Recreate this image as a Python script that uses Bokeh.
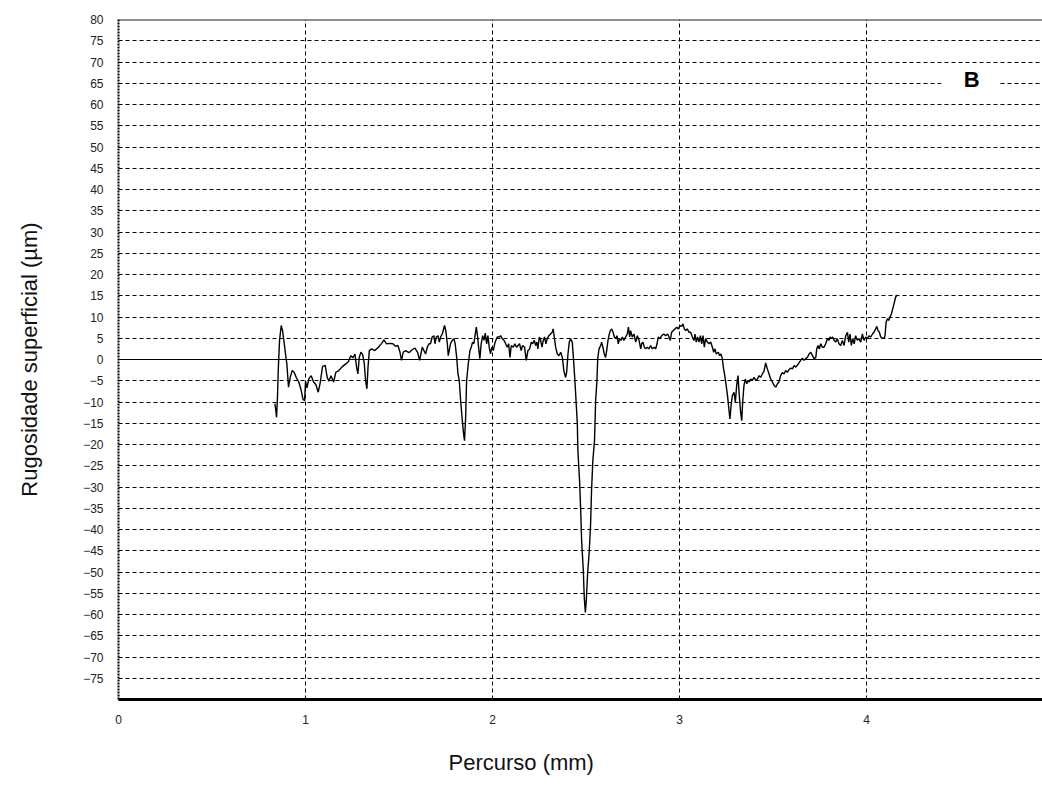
from bokeh.plotting import figure
from bokeh.models import Span, Label, BoxAnnotation, FixedTicker, Range1d, Title
from bokeh.embed import file_html
from bokeh.resources import INLINE

# ---- data ----
x_ticks = [0, 1, 2, 3, 4]
y_ticks = list(range(-75, 81, 5))
x_label = "Percurso (mm)"
y_label = "Rugosidade superficial (µm)"
panel_letter = "B"

profile_a = [(0.836,-10.4),(0.841,-12.0),(0.845,-13.6),(0.850,-8.9),(0.854,-2.6),(0.861,4.5),
             (0.870,8.0),(0.877,6.8),(0.884,4.5),(0.893,1.3),(0.900,-1.0),(0.909,-6.5),
             (0.918,-4.2),(0.929,-2.6),(0.939,-3.0),(0.950,-4.2),(0.964,-5.3),(0.977,-7.3),
             (0.986,-9.3),(0.995,-9.7),(1.000,-5.0),(1.007,-6.7),(1.018,-4.5),(1.030,-3.8),
             (1.043,-5.3),(1.055,-5.9),(1.068,-7.7),(1.079,-5.3),(1.091,-1.6),(1.105,-1.4),
             (1.116,-4.2),(1.125,-5.1),(1.136,-3.8),(1.150,-5.3),(1.162,-3.0),(1.178,-2.6),
             (1.194,-1.8),(1.210,-1.2),(1.228,-0.6),(1.242,0.9),(1.253,0.4),(1.264,1.3),
             (1.273,-1.8),(1.280,-3.4),(1.287,0.5),(1.296,1.7),(1.305,1.2),(1.314,-0.9),
             (1.321,-5.0),(1.328,-6.9),(1.334,-1.8),(1.341,2.1),(1.353,2.5),(1.371,2.1),
             (1.389,2.9),(1.407,3.8),(1.419,4.6),(1.433,3.7),(1.449,3.8),(1.467,3.7),
             (1.481,3.1),(1.494,3.3),(1.505,1.7),(1.513,-0.2),(1.522,1.7),(1.535,2.1),
             (1.553,1.6),(1.570,2.3),(1.585,2.7),(1.599,1.7),(1.610,-0.2)]

profile_b = [(1.624,2.9),(1.633,2.1),(1.642,1.3),(1.651,2.9),(1.660,3.7),(1.668,3.7),
             (1.677,5.3),(1.686,5.6),(1.692,3.7),(1.699,5.3),(1.708,5.6),(1.715,4.1),
             (1.722,5.3),(1.731,6.0),(1.743,8.0),(1.750,6.8),(1.758,3.7),(1.763,0.9),
             (1.768,2.1),(1.775,3.7),(1.784,4.5),(1.793,4.9),(1.800,3.7),(1.808,0.5),
             (1.815,-3.4),(1.822,-5.0),(1.829,-9.6),(1.838,-14.3),(1.845,-17.5),(1.850,-19.1),
             (1.856,-13.6),(1.861,-5.0),(1.870,-1.0),(1.879,2.1),(1.886,2.9),(1.893,4.1),
             (1.900,3.7),(1.906,5.6),(1.913,7.6),(1.920,5.3),(1.927,2.1),(1.932,0.2),
             (1.939,3.7),(1.947,5.6),(1.954,4.5),(1.961,6.2),(1.968,3.7),(1.975,5.6),
             (1.982,2.9),(1.989,1.3),(1.996,2.9),(2.004,2.1),(2.011,3.7),(2.018,4.6),
             (2.025,5.3),(2.036,5.3),(2.043,5.6),(2.052,4.9),(2.061,4.5),(2.070,3.7),
             (2.078,2.9),(2.086,3.7),(2.093,0.5),(2.100,3.3),(2.111,2.9),(2.119,3.7),
             (2.128,2.9),(2.136,3.3),(2.144,3.7),(2.153,2.1),(2.160,3.3),(2.171,2.9),
             (2.180,-0.2),(2.189,2.1),(2.198,2.5),(2.207,4.1),(2.214,3.7),(2.223,4.5),
             (2.230,3.3),(2.237,4.1),(2.242,2.5),(2.250,5.3),(2.257,4.5),(2.264,2.9),
             (2.271,4.5),(2.278,5.3),(2.285,3.7),(2.292,4.9),(2.301,5.6),(2.310,6.0),
             (2.319,6.4),(2.324,7.2),(2.330,5.3),(2.337,2.9),(2.346,1.3),(2.355,0.9),
             (2.364,1.7),(2.373,0.5),(2.381,-2.6),(2.390,-4.2),(2.396,-3.0),(2.403,1.3),
             (2.410,4.1),(2.417,4.9),(2.426,4.1),(2.433,-0.2),(2.439,-4.2),(2.444,-8.0)]

profile_c = [(2.453,-15.0),(2.456,-21.4),(2.465,-28.5),(2.471,-35.5),(2.476,-42.6),
             (2.485,-49.6),(2.490,-55.9),(2.496,-59.5),(2.501,-56.7),(2.508,-50.4),
             (2.517,-45.0),(2.524,-38.7),(2.529,-30.8),(2.536,-23.8),(2.545,-19.0),
             (2.551,-9.6)]

profile_d = [(2.558,-4.9),(2.562,0.2),(2.569,2.5),(2.578,3.3),(2.583,4.1),(2.590,2.9),
             (2.597,1.3),(2.604,0.5),(2.610,2.1),(2.617,4.5),(2.622,5.6),(2.629,6.8),
             (2.637,7.2),(2.644,6.4),(2.651,5.3),(2.658,4.9),(2.665,5.6),(2.672,3.7),
             (2.679,4.9),(2.686,4.5),(2.694,5.3),(2.702,4.5),(2.711,5.3),(2.720,6.0),
             (2.726,7.6),(2.733,5.3),(2.738,6.8),(2.747,5.3),(2.756,6.0),(2.765,4.1),
             (2.774,5.6),(2.783,4.5),(2.792,2.5),(2.797,3.7),(2.804,4.1),(2.811,2.9),
             (2.818,2.5),(2.827,2.9),(2.836,2.5),(2.845,3.3),(2.854,2.5),(2.863,2.9),
             (2.872,2.5),(2.879,3.7),(2.886,5.3),(2.895,4.9),(2.904,5.6),(2.915,6.0),
             (2.925,5.6),(2.936,6.0),(2.943,5.3),(2.950,4.5),(2.957,6.4),(2.966,6.8),
             (2.975,7.2),(2.984,7.6),(2.993,7.2),(3.002,8.0),(3.011,7.8),(3.018,8.4),
             (3.025,7.2),(3.032,6.8),(3.041,7.2),(3.050,6.4),(3.059,6.4),(3.068,5.3),
             (3.077,4.5),(3.082,6.0),(3.089,4.1),(3.096,5.3),(3.104,4.1),(3.111,5.6),
             (3.118,3.7),(3.125,5.6),(3.132,2.9),(3.139,4.9),(3.148,4.1),(3.157,3.7),
             (3.166,4.1),(3.175,2.9),(3.182,1.7),(3.189,2.5),(3.196,1.3),(3.207,1.7),
             (3.214,0.9),(3.221,1.3),(3.228,0.2),(3.235,-2.2),(3.243,-4.2),(3.250,-6.5),
             (3.257,-8.9),(3.264,-12.0),(3.269,-14.0),(3.276,-10.4)]

profile_e = [(3.282,-8.5),(3.291,-7.7),(3.298,-10.0),(3.305,-6.1),(3.312,-3.8),(3.319,-8.5),
             (3.326,-12.4),(3.332,-14.4),(3.337,-10.0),(3.344,-6.1),(3.351,-4.6),(3.359,-5.7),
             (3.366,-4.9),(3.373,-5.3),(3.380,-4.6),(3.389,-4.9),(3.398,-4.2),(3.407,-4.9),
             (3.416,-4.6),(3.425,-3.8),(3.433,-4.2),(3.442,-3.4),(3.451,-2.8),(3.460,-0.8),
             (3.469,-2.2),(3.478,-3.4),(3.487,-4.6),(3.496,-5.3),(3.505,-6.1),(3.514,-6.5),
             (3.523,-5.7),(3.531,-5.3),(3.540,-3.8),(3.549,-3.1),(3.558,-3.4),(3.567,-2.6),
             (3.576,-3.0),(3.585,-2.4),(3.594,-2.0),(3.603,-2.2),(3.612,-1.4),(3.621,-1.8),
             (3.630,-1.3),(3.638,-0.8),(3.647,-0.2),(3.656,0.3),(3.665,-0.2),(3.674,0.2),
             (3.683,0.5),(3.692,1.3),(3.701,1.7),(3.710,0.9),(3.719,0.2),(3.728,0.5),
             (3.733,2.5),(3.740,3.3),(3.747,2.5),(3.754,3.7),(3.763,2.9),(3.772,2.9),
             (3.781,3.7),(3.790,4.9),(3.799,4.5),(3.804,5.3),(3.811,4.9),(3.818,5.3),
             (3.826,4.5),(3.834,4.1),(3.843,4.9),(3.852,3.7),(3.861,3.3),(3.870,4.5),
             (3.879,3.3),(3.888,5.6),(3.897,6.4),(3.904,4.1),(3.911,6.0),(3.918,3.3),
             (3.925,4.9),(3.933,3.7),(3.941,5.6),(3.950,4.5),(3.959,4.9),(3.968,4.1),
             (3.977,6.0),(3.986,4.5),(3.995,5.3),(4.004,4.9),(4.013,5.6),(4.022,5.3),
             (4.031,6.0),(4.039,6.4),(4.048,7.2),(4.054,7.8),(4.061,6.8),(4.068,6.4),
             (4.075,5.3),(4.084,5.0),(4.093,5.0),(4.098,5.6),(4.104,8.8),(4.111,9.6),
             (4.118,9.2),(4.125,10.0),(4.132,10.7),(4.139,11.9),(4.146,13.1),(4.155,14.7),
             (4.164,15.2)]

profile = profile_a + profile_b + profile_c + profile_d + profile_e
px = [pt[0] for pt in profile]
py = [pt[1] for pt in profile]

FONT = "Liberation Sans"

p = figure(width=1042, height=805, output_backend="svg", toolbar_location=None,
           x_range=Range1d(0, 4.94), y_range=Range1d(-80, 80),
           min_border_left=118, min_border_right=0, min_border_top=19, min_border_bottom=106)
p.outline_line_color = None
p.background_fill_color = "white"

# axes
p.xaxis.ticker = FixedTicker(ticks=x_ticks)
p.yaxis.ticker = FixedTicker(ticks=y_ticks)
for ax in (p.xaxis[0], p.yaxis[0]):
    ax.major_tick_line_color = None
    ax.minor_tick_line_color = None
    ax.major_label_text_font = FONT
    ax.major_label_text_font_size = "12px"
    ax.major_label_text_color = "#222222"
p.xaxis.major_label_standoff = 9
p.yaxis.major_label_standoff = 9
p.xaxis.axis_line_width = 3
p.xaxis.axis_line_color = "black"
p.yaxis.axis_line_width = 2
p.yaxis.axis_line_color = "black"
p.yaxis.axis_line_dash = "2 1"

# y axis title
p.yaxis.axis_label = y_label
p.yaxis.axis_label_text_font = FONT
p.yaxis.axis_label_text_font_size = "22px"
p.yaxis.axis_label_text_font_style = "normal"
p.yaxis.axis_label_text_color = "#111111"
p.yaxis.axis_label_standoff = 38

# x axis title (offset to the left as in the reference)
p.add_layout(Title(text=x_label, align="left", offset=330, standoff=42,
                   text_font=FONT, text_font_size="22px", text_font_style="normal",
                   text_color="#111111"), "below")

# grid
p.ygrid.ticker = FixedTicker(ticks=y_ticks)
p.xgrid.ticker = FixedTicker(ticks=x_ticks)
p.ygrid.grid_line_color = "black"
p.ygrid.grid_line_dash = "4 3"
p.ygrid.grid_line_width = 1
p.xgrid.grid_line_color = "black"
p.xgrid.grid_line_dash = "4 3"
p.xgrid.grid_line_width = 1

# zero line and top border
p.add_layout(Span(location=0, dimension="width", line_color="black", line_width=1))
p.add_layout(Span(location=80, dimension="width", line_color="#222222", line_width=2))

# profile
p.line(px, py, line_color="black", line_width=1.4)

# panel letter with white box
p.add_layout(BoxAnnotation(left=4.40, right=4.71, bottom=61.5, top=69.3,
                           fill_color="white", fill_alpha=1.0, line_color=None))
p.add_layout(Label(x=4.561, y=65.9, text=panel_letter, text_font=FONT,
                   text_font_size="22px", text_font_style="bold",
                   text_align="center", text_baseline="middle", text_color="black"))

open("out.html", "w").write(file_html(p, INLINE))
